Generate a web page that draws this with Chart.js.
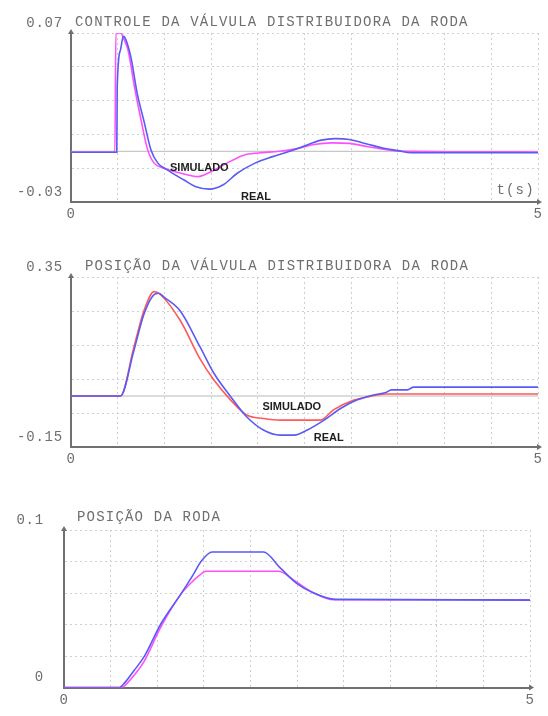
<!DOCTYPE html>
<html>
<head>
<meta charset="utf-8">
<script src="https://cdn.jsdelivr.net/npm/chart.js@4.4.0/dist/chart.umd.min.js"></script>
<style>
  html, body { margin: 0; padding: 0; background: #fff; }
  #page { position: relative; width: 548px; height: 716px; overflow: hidden; }
  canvas { position: absolute; left: 0; }
</style>
</head>
<body>
<div id="page">
  <canvas id="c1" width="548" height="235" style="top:0px"></canvas>
  <canvas id="c2" width="548" height="235" style="top:245px"></canvas>
  <canvas id="c3" width="548" height="221" style="top:495px"></canvas>
</div>
<script>
// --- controle da valvula distribuidora ---
const t1Real = [0, 0.49, 0.495, 0.53, 0.56, 0.58, 0.64, 0.71, 0.785, 0.856, 0.93, 1.03, 1.21, 1.33, 1.48, 1.63, 1.78, 1.97, 2.15, 2.34, 2.49, 2.68, 2.83, 2.98, 3.16, 3.35, 3.5, 3.64, 5];
const v1Real = [-0.0006, -0.0006, 0.038, 0.06, 0.068, 0.067, 0.056, 0.034, 0.017, 0.0008, -0.007, -0.011, -0.017, -0.0208, -0.0224, -0.0198, -0.013, -0.007, -0.0033, 0, 0.003, 0.0066, 0.0075, 0.007, 0.0045, 0.0018, 0.0004, -0.0009, -0.0009];
const t1Sim = [0, 0.47, 0.48, 0.53, 0.57, 0.61, 0.68, 0.75, 0.82, 0.89, 1.0, 1.18, 1.36, 1.48, 1.67, 1.85, 2.0, 2.23, 2.42, 2.6, 2.79, 2.98, 3.18, 3.4, 3.5, 5];
const v1Sim = [-0.0006, -0.0006, 0.07, 0.07, 0.066, 0.06, 0.038, 0.0185, 0.001, -0.007, -0.01, -0.013, -0.015, -0.0126, -0.007, -0.0023, -0.001, 0, 0.0016, 0.004, 0.005, 0.0047, 0.0027, 0.0008, 0.0002, -0.0004];
const y1Ticks = [-0.03, 0.07];
const y1Labels = ['-0.03', '0.07'];

// --- posicao da valvula distribuidora ---
const t2Real = [0, 0.53, 0.67, 0.78, 0.9, 0.94, 1.0, 1.17, 1.38, 1.53, 1.71, 1.88, 2.06, 2.24, 2.39, 2.53, 2.71, 2.89, 3.06, 3.24, 3.37, 3.43, 3.6, 3.67, 5];
const v2Real = [0, 0, 0.13, 0.24, 0.30, 0.302, 0.29, 0.25, 0.145, 0.067, -0.002, -0.061, -0.10, -0.115, -0.115, -0.10, -0.071, -0.036, -0.012, 0.003, 0.01, 0.018, 0.018, 0.026, 0.026];
const t2Sim = [0, 0.53, 0.67, 0.78, 0.89, 0.95, 1.17, 1.38, 1.53, 1.71, 1.88, 2.06, 2.24, 2.67, 2.81, 3.03, 3.19, 3.37, 5];
const v2Sim = [0, 0, 0.14, 0.25, 0.307, 0.30, 0.222, 0.11, 0.047, -0.012, -0.056, -0.066, -0.071, -0.071, -0.041, -0.012, -0.002, 0.006, 0.006];
const y2Ticks = [-0.15, 0.35];
const y2Labels = ['-0.15', '0.35'];

// --- posicao da roda ---
const t3Real = [0, 0.59, 0.65, 0.75, 0.86, 1.04, 1.25, 1.39, 1.47, 1.59, 2.14, 2.32, 2.50, 2.68, 2.91, 5];
const v3Real = [0, 0, 0.003, 0.0107, 0.0196, 0.0405, 0.059, 0.072, 0.08, 0.086, 0.086, 0.076, 0.066, 0.06, 0.056, 0.0555];
const t3Sim = [0, 0.62, 0.68, 0.75, 0.86, 1.04, 1.25, 1.39, 1.47, 1.52, 2.30, 2.47, 2.68, 2.89, 5];
const v3Sim = [0, 0, 0.003, 0.0077, 0.0167, 0.0385, 0.059, 0.068, 0.072, 0.0738, 0.0738, 0.068, 0.060, 0.0557, 0.0557];
const y3Ticks = [0, 0.1];
const y3Labels = ['0', '0.1'];

const xTicks = [0, 5];
const xLabels = ['0', '5'];
const zeroT = [0, 5];
const zeroV = [0, 0];

const BLUE = '#5a5af5';
const MAGENTA = '#ff50ff';
const RED = '#ff5a5a';
const GRID = '#cfcfcf';
const AXIS = '#707070';
const TEXT = '#6e6e6e';
const MONO = '14px "Liberation Mono", "DejaVu Sans Mono", monospace';
const NOTE = 'bold 11px "Liberation Sans", Arial, sans-serif';

function pts(ts, vs) {
    return ts.map((t, i) => ({ x: t, y: vs[i] }));
}

function pick(values, labels) {
    return v => {
        const i = values.findIndex(k => Math.abs(k - v) < 1e-9);
        return i >= 0 ? labels[i] : '';
    };
}

const decor = {
    id: 'decor',
    beforeDraw(chart) {
        chart.ctx.letterSpacing = '0.8px';
    },
    afterDraw(chart, args, o) {
        const { ctx, chartArea: a, scales: { x, y } } = chart;
        ctx.save();
        // arrow tips on the axes
        ctx.fillStyle = AXIS;
        ctx.beginPath();
        ctx.moveTo(a.left - 3, a.top + 1);
        ctx.lineTo(a.left + 3, a.top + 1);
        ctx.lineTo(a.left, a.top - 4);
        ctx.fill();
        ctx.beginPath();
        ctx.moveTo(a.right - 1, a.bottom - 3);
        ctx.lineTo(a.right - 1, a.bottom + 3);
        ctx.lineTo(a.right + 4, a.bottom);
        ctx.fill();
        // title
        ctx.font = MONO;
        ctx.fillStyle = TEXT;
        ctx.letterSpacing = '1.2px';
        ctx.textAlign = 'left';
        ctx.textBaseline = 'middle';
        ctx.fillText(o.title, a.left + o.titleDx, a.top - o.titleDy);
        if (o.unit) {
            ctx.textAlign = 'center';
            ctx.fillText(o.unit.text, x.getPixelForValue(o.unit.x), y.getPixelForValue(o.unit.y));
        }
        // curve names
        ctx.font = NOTE;
        ctx.fillStyle = '#1e1e1e';
        ctx.letterSpacing = '0px';
        ctx.textAlign = 'left';
        (o.notes || []).forEach(n => {
            ctx.fillText(n.text, x.getPixelForValue(n.x), y.getPixelForValue(n.y));
        });
        ctx.restore();
    }
};

function makeChart(id, c) {
    const canvas = document.getElementById(id);
    const H = canvas.height;
    const datasets = [
        { data: pts(c.tReal, c.vReal), borderColor: BLUE },
        { data: pts(c.tSim, c.vSim), borderColor: c.simColor }
    ];
    if (c.zero) {
        datasets.push({ data: pts(zeroT, zeroV), borderColor: '#b9b9b9', borderWidth: 1 });
    }
    return new Chart(canvas.getContext('2d'), {
        type: 'line',
        data: { datasets },
        options: {
            responsive: false,
            animation: false,
            events: [],
            parsing: false,
            layout: { padding: { left: 0, right: canvas.width - c.area.right, top: c.area.top, bottom: 0 } },
            elements: {
                point: { radius: 0 },
                line: { borderWidth: 1.6, cubicInterpolationMode: 'monotone', fill: false }
            },
            plugins: {
                legend: { display: false },
                tooltip: { enabled: false },
                decor: { title: c.title, titleDx: c.titleDx, titleDy: c.titleDy, notes: c.notes, unit: c.unit }
            },
            scales: {
                x: {
                    type: 'linear',
                    min: 0,
                    max: 5,
                    afterFit: s => { s.height = H - c.area.bottom; },
                    ticks: {
                        stepSize: 0.5,
                        autoSkip: false,
                        maxRotation: 0,
                        padding: 4,
                        color: TEXT,
                        font: { family: '"Liberation Mono", monospace', size: 14 },
                        callback: pick(xTicks, xLabels)
                    },
                    grid: { color: GRID, drawTicks: false, lineWidth: 1 },
                    border: { color: AXIS, width: 2, dash: [2, 3] }
                },
                y: {
                    type: 'linear',
                    min: c.yMin,
                    max: c.yMax,
                    afterFit: s => { s.width = c.area.left; },
                    ticks: {
                        stepSize: c.yStep,
                        autoSkip: false,
                        padding: c.yPad,
                        labelOffset: -10,
                        color: TEXT,
                        font: { family: '"Liberation Mono", monospace', size: 14 },
                        callback: pick(c.yTicks, c.yLabels)
                    },
                    grid: { color: GRID, drawTicks: false, lineWidth: 1 },
                    border: { color: AXIS, width: 2, dash: [2, 3] }
                }
            }
        },
        plugins: [decor]
    });
}

makeChart('c1', {
    tReal: t1Real, vReal: v1Real, tSim: t1Sim, vSim: v1Sim, simColor: MAGENTA, zero: true,
    yMin: -0.03, yMax: 0.07, yStep: 0.02, yTicks: y1Ticks, yLabels: y1Labels, yPad: 8,
    area: { left: 71, right: 538, top: 33, bottom: 202 },
    title: 'CONTROLE DA VÁLVULA DISTRIBUIDORA DA RODA', titleDx: 4, titleDy: 11,
    unit: { text: 't(s)', x: 4.76, y: -0.0229 },
    notes: [
        { text: 'SIMULADO', x: 1.06, y: -0.0099 },
        { text: 'REAL', x: 1.82, y: -0.0273 }
    ]
});

makeChart('c2', {
    tReal: t2Real, vReal: v2Real, tSim: t2Sim, vSim: v2Sim, simColor: RED, zero: true,
    yMin: -0.15, yMax: 0.35, yStep: 0.1, yTicks: y2Ticks, yLabels: y2Labels, yPad: 8,
    area: { left: 71, right: 538, top: 32, bottom: 202 },
    title: 'POSIÇÃO DA VÁLVULA DISTRIBUIDORA DA RODA', titleDx: 14, titleDy: 11,
    notes: [
        { text: 'SIMULADO', x: 2.05, y: -0.032 },
        { text: 'REAL', x: 2.6, y: -0.124 }
    ]
});

makeChart('c3', {
    tReal: t3Real, vReal: v3Real, tSim: t3Sim, vSim: v3Sim, simColor: MAGENTA, zero: false,
    yMin: 0, yMax: 0.1, yStep: 0.02, yTicks: y3Ticks, yLabels: y3Labels, yPad: 20,
    area: { left: 64, right: 530, top: 35, bottom: 203 },
    title: 'POSIÇÃO DA RODA', titleDx: 13, titleDy: 13
});
</script>
</body>
</html>
